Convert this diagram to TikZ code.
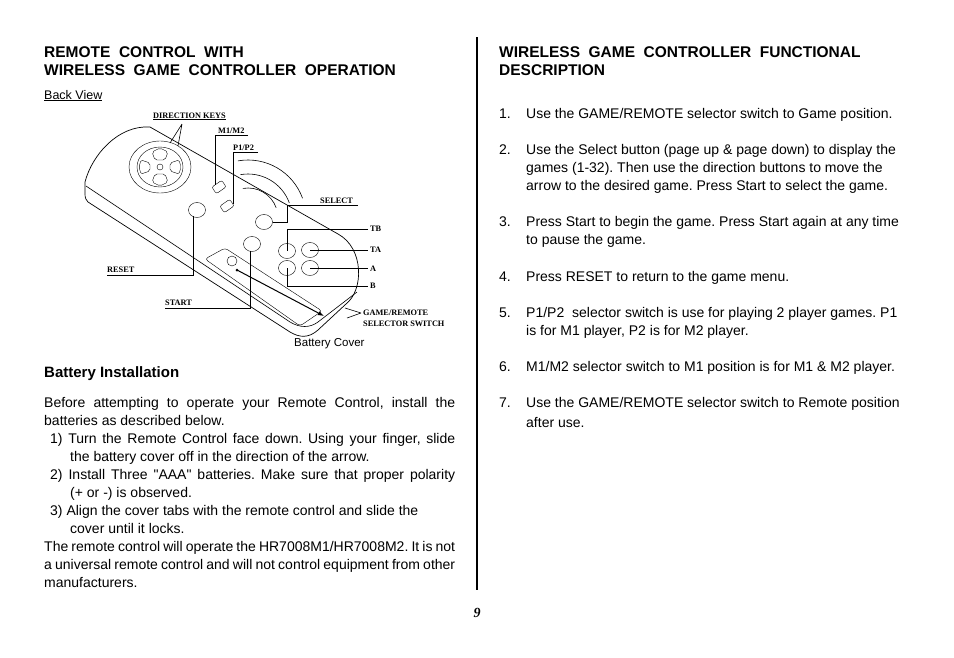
\documentclass[tikz,border=0pt]{standalone}
\usepackage{fontspec}
\setmainfont{Liberation Sans}
\newfontfamily\lblfont{Liberation Serif}
\newfontfamily\plainq{Liberation Sans}[Ligatures=ResetAll]
\usetikzlibrary{arrows.meta,calc,shapes.geometric}
\frenchspacing
\newcommand\hdsetup{\fontsize{15.5}{17}\selectfont\bfseries\spaceskip=0.55em\relax}

\tikzset{
  txt/.style={anchor=base west, inner sep=0pt, font=\fontsize{14}{16}\selectfont},
  hd/.style={anchor=base west, inner sep=0pt, font=\hdsetup},
  lbl/.style={anchor=base west, inner sep=0pt, font=\lblfont\fontsize{8.3}{9}\selectfont\bfseries},
  btn/.style={draw, ellipse, minimum width=17pt, minimum height=15pt, inner sep=0pt},
  lead/.style={line width=0.6pt},
}

\begin{document}
\begin{tikzpicture}[x=1pt,y=-1pt]
  \useasboundingbox (0,0) rectangle (954,657);

  % headings, left column
  \node[hd] at (44,57) {REMOTE CONTROL WITH};
  \node[hd] at (44,75) {WIRELESS GAME CONTROLLER OPERATION};
  \node[txt, font=\fontsize{12.5}{14}\selectfont] at (44,99) {\underline{Back View}};

  % remote body
  \draw[line width=0.7pt] (85,194) -- (85,182) .. controls (92,155) and (118,125) .. (150,127)
    -- (338,234) .. controls (364,248) and (364,290) .. (346,304)
    -- (318,330) .. controls (309,338) and (300,338) .. (290,332) -- (88,202) .. controls (86,200) and (85,198) .. (85,194);
  \draw[line width=0.6pt] (86,186) -- (290,322) .. controls (300,328) and (310,328) .. (318,322) -- (357,292);

  % direction keys
  \draw (160,167) ellipse (31 and 26);
  \draw (160,167) ellipse (23 and 20);
  \draw (160,167) circle (3);
  \draw[rounded corners=2pt] (152,152) -- (160,148) -- (168,152) -- (165,160) -- (155,160) -- cycle;
  \draw[rounded corners=2pt] (152,182) -- (160,186) -- (168,182) -- (165,174) -- (155,174) -- cycle;
  \draw[rounded corners=2pt] (141,160) -- (139,167) -- (141,174) -- (150,171) -- (150,163) -- cycle;
  \draw[rounded corners=2pt] (179,160) -- (181,167) -- (179,174) -- (170,171) -- (170,163) -- cycle;

  % switches
  \draw[rotate around={35:(219,187)}, rounded corners=2pt] (213,183) rectangle (225,191);
  \draw[rotate around={35:(227,206)}, rounded corners=2pt] (221,202) rectangle (233,210);

  % signal waves
  \foreach \r in {30,44,58}
    \draw[line width=0.6pt] ($(248,218)+(-100:\r)$) arc[start angle=-100, end angle=-20, radius=\r];

  % buttons
  \node[btn] (reset) at (197,210) {};
  \node[btn] (select) at (264,222) {};
  \node[btn] (start) at (252,244) {};
  \node[btn] (tb) at (287,251) {};
  \node[btn] (ta) at (310,250) {};
  \node[btn] (b) at (287,268) {};
  \node[btn] (a) at (310,268) {};

  % battery cover
  \draw[rounded corners=3pt] (205,259) -- (225,248) -- (322,311) -- (300,326) -- cycle;
  \draw (232,261) circle (5);
  \fill (237,270) circle (1.5);
  \coordinate (arrowtip) at (324,316);
  \draw[line width=1pt, -{Latex[length=6pt]}] (237,270) -- (arrowtip);
  \node[txt, font=\fontsize{11.5}{13}\selectfont] at (294,346) {Battery Cover};

  % labels and leaders
  \node[lbl] (dirkeys) at (153,118) {\underline{DIRECTION KEYS}};
  \draw[lead] (182,124) -- (170,143) (182,124) -- (178,146);
  \node[lbl] at (218,133) {M1/M2};
  \draw[lead] (248,135) -- (215,135) -- (215,185);
  \node[lbl] at (233,150) {P1/P2};
  \draw[lead] (258,152) -- (233,152) -- (233,204);
  \node[lbl] at (320,203) {SELECT};
  \draw[lead] (358,205) -- (287,205) -- (287,222) -- (select.east);
  \node[lbl] at (370,231) {TB};
  \draw[lead] (368,229) -- (287,229) -- (tb.center);
  \node[lbl] at (370,252) {TA};
  \draw[lead] (ta.center) -- (368,250);
  \node[lbl] at (370,271) {A};
  \draw[lead] (a.center) -- (368,268);
  \node[lbl] at (370,288) {B};
  \draw[lead] (b.center) -- (287,286) -- (368,286);
  \node[lbl] at (107,272) {RESET};
  \draw[lead] (107,275) -- (193,275) -- (193,216);
  \node[lbl] at (165,305) {START};
  \draw[lead] (165,308) -- (250,308) -- (250,251);
  \node[lbl] at (363,315) {GAME/REMOTE};
  \node[lbl] at (363,326) {SELECTOR SWITCH};
  \draw[lead] (361,313) -- (345,308) (361,313) -- (347,318);

  % battery installation
  \node[txt, font=\fontsize{15}{17}\selectfont\bfseries] at (44,377) {Battery Installation};
  \node[txt] at (44,407) {\makebox[411pt][s]{Before attempting to operate your Remote Control, install the}};
  \node[txt] at (44,425) {batteries as described below.};
  \node[txt] at (50,443) {\makebox[405pt][s]{1) Turn the Remote Control face down. Using your finger, slide}};
  \node[txt] at (70,461) {the battery cover off in the direction of the arrow.};
  \node[txt] at (50,479) {\makebox[405pt][s]{2) Install Three {\plainq"}AAA{\plainq"} batteries. Make sure that proper polarity}};
  \node[txt] at (70,497) {(+ or -) is observed.};
  \node[txt] at (50,515) {3) Align the cover tabs with the remote control and slide the};
  \node[txt] at (70,533) {cover until it locks.};
  \node[txt] at (44,551) {\makebox[411pt][s]{The remote control will operate the HR7008M1/HR7008M2. It is not}};
  \node[txt] at (44,569) {\makebox[411pt][s]{a universal remote control and will not control equipment from other}};
  \node[txt] at (44,587) {manufacturers.};

  % divider and page number
  \draw[line width=1.5pt] (477,37) -- (477,590);
  \node[anchor=base, inner sep=0pt, font=\lblfont\fontsize{14}{16}\selectfont\bfseries\itshape] at (477,617) {9};

  % right column
  \node[hd] at (499,57) {WIRELESS GAME CONTROLLER FUNCTIONAL};
  \node[hd] at (499,75) {DESCRIPTION};
  \foreach \n/\y in {1/118,2/154,3/226,4/281,5/317,6/371,7/407}
    \node[txt] at (499,\y) {\n.};
  \node[txt] at (526,118) {Use the GAME/REMOTE selector switch to Game position.};
  \node[txt] at (526,154) {Use the Select button (page up \& page down) to display the};
  \node[txt] at (526,172) {games (1-32). Then use the direction buttons to move the};
  \node[txt] at (526,190) {arrow to the desired game. Press Start to select the game.};
  \node[txt] at (526,226) {Press Start to begin the game. Press Start again at any time};
  \node[txt] at (526,244) {to pause the game.};
  \node[txt] at (526,281) {Press RESET to return to the game menu.};
  \node[txt] at (526,317) {P1/P2\ \ selector switch is use for playing 2 player games. P1};
  \node[txt] at (526,335) {is for M1 player, P2 is for M2 player.};
  \node[txt] at (526,371) {M1/M2 selector switch to M1 position is for M1 \& M2 player.};
  \node[txt] at (526,407) {Use the GAME/REMOTE selector switch to Remote position};
  \node[txt] at (526,427) {after use.};
\end{tikzpicture}
\end{document}
